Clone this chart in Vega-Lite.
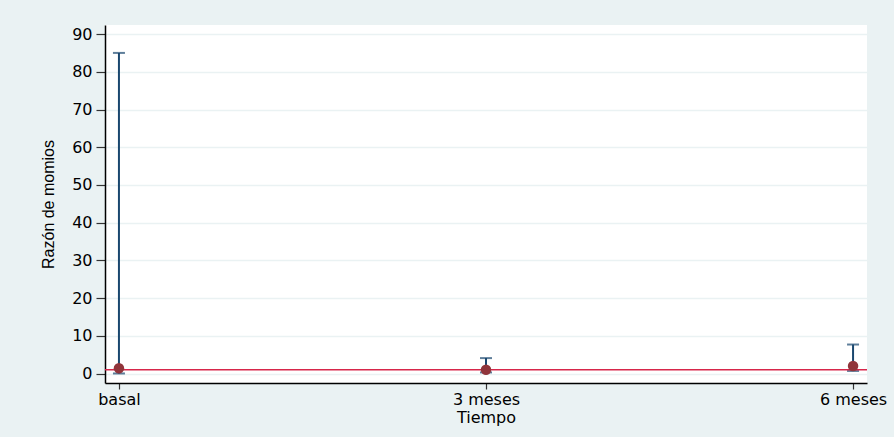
{
  "$schema": "https://vega.github.io/schema/vega-lite/v6.json",
  "width": 762,
  "height": 358,
  "autosize": {"type": "none"},
  "padding": {"left": 105, "top": 25, "right": 27, "bottom": 54},
  "background": "#EAF2F3",
  "data": {
    "values": [
      {"tiempo": "basal", "or": 1.4, "lo": 0.03, "hi": 85.0},
      {"tiempo": "3 meses", "or": 1.0, "lo": 0.3, "hi": 4.1},
      {"tiempo": "6 meses", "or": 2.0, "lo": 0.7, "hi": 7.7}
    ]
  },
  "encoding": {
    "x": {
      "field": "tiempo",
      "type": "ordinal",
      "sort": ["basal", "3 meses", "6 meses"],
      "scale": {"type": "point", "padding": 0.038},
      "axis": {
        "title": "Tiempo",
        "labelAngle": 0,
        "labelBound": false,
        "labelFlush": false,
        "labelOverlap": false,
        "tickSize": 6,
        "labelPadding": 2,
        "titlePadding": 2,
        "grid": false
      }
    }
  },
  "layer": [
    {
      "mark": {"type": "rule", "color": "#1A476F", "strokeWidth": 2},
      "encoding": {
        "y": {
          "field": "lo",
          "type": "quantitative",
          "scale": {"domain": [-2.5, 92.4], "nice": false, "zero": false},
          "axis": {"title": "Razón de momios", "values": [0, 10, 20, 30, 40, 50, 60, 70, 80, 90], "grid": true}
        },
        "y2": {"field": "hi"}
      }
    },
    {
      "mark": {"type": "tick", "color": "#1A476F", "orient": "horizontal", "size": 12, "thickness": 2},
      "encoding": {
        "y": {
          "field": "hi",
          "type": "quantitative",
          "axis": {"title": "Razón de momios", "values": [0, 10, 20, 30, 40, 50, 60, 70, 80, 90], "grid": true}
        }
      }
    },
    {
      "mark": {"type": "tick", "color": "#1A476F", "orient": "horizontal", "size": 12, "thickness": 2},
      "encoding": {
        "y": {
          "field": "lo",
          "type": "quantitative",
          "axis": {"title": "Razón de momios", "values": [0, 10, 20, 30, 40, 50, 60, 70, 80, 90], "grid": true}
        }
      }
    },
    {
      "data": {"values": [{"ref": 1}]},
      "mark": {"type": "rule", "color": "#D7264A", "strokeWidth": 1.6},
      "encoding": {
        "x": null,
        "y": {
          "field": "ref",
          "type": "quantitative",
          "axis": {"title": "Razón de momios", "values": [0, 10, 20, 30, 40, 50, 60, 70, 80, 90], "grid": true}
        }
      }
    },
    {
      "mark": {"type": "circle", "color": "#90353B", "opacity": 1, "size": 110},
      "encoding": {
        "y": {
          "field": "or",
          "type": "quantitative",
          "axis": {"title": "Razón de momios", "values": [0, 10, 20, 30, 40, 50, 60, 70, 80, 90], "grid": true}
        }
      }
    }
  ],
  "config": {
    "view": {"stroke": null, "fill": "white"},
    "axis": {
      "domainColor": "#000000",
      "domainWidth": 1.5,
      "tickColor": "#333333",
      "tickWidth": 1.2,
      "labelFont": "DejaVu Sans",
      "labelFontSize": 16,
      "labelColor": "#000000",
      "titleFont": "DejaVu Sans",
      "titleFontSize": 16,
      "titleFontWeight": "normal",
      "titleColor": "#000000",
      "gridColor": "#EAF2F3",
      "gridWidth": 1.5
    },
    "axisY": {
      "tickSize": 9,
      "labelPadding": 4,
      "titleFont": "Liberation Sans",
      "titleFontSize": 16,
      "titlePadding": 15
    }
  }
}
